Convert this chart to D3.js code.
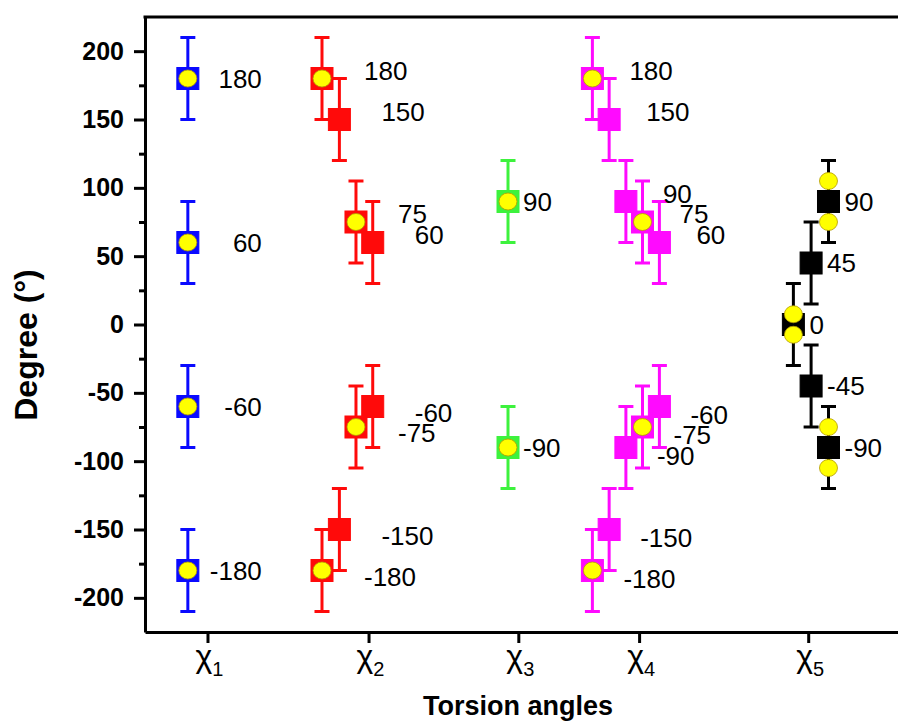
<!DOCTYPE html>
<html>
<head>
<meta charset="utf-8">
<script src="https://cdn.jsdelivr.net/npm/d3@7"></script>
<style>
  html, body { margin: 0; padding: 0; background: #ffffff; }
  svg { display: block; }
  text { font-family: Arial, "Liberation Sans", Helvetica, sans-serif; }
</style>
</head>
<body>
<svg id="chart" width="898" height="722"></svg>
<script>
// ---- data ----
const categorySubscripts = ["1", "2", "3", "4", "5"];
const categoryPositions = [1, 2, 2.93, 3.68, 4.73];

const yTickValues = [-200, -150, -100, -50, 0, 50, 100, 150, 200];
const yMinorTickValues = [-175, -125, -75, -25, 25, 75, 125, 175];

const errorMargin = 30;

// chi1
const chi1Values = [180, 60, -60, -180];
const chi1X = [0.878, 0.878, 0.878, 0.878];
const chi1Kinds = ["circle", "circle", "circle", "circle"];

// chi2
const chi2Values = [180, 150, 75, 60, -60, -75, -150, -180];
const chi2X = [1.711, 1.819, 1.922, 2.026, 2.026, 1.922, 1.819, 1.711];
const chi2Kinds = ["circle", "square", "circle", "square", "square", "circle", "square", "circle"];

// chi3
const chi3Values = [90, -90];
const chi3X = [2.866, 2.866];
const chi3Kinds = ["circle", "circle"];

// chi4
const chi4Values = [180, 150, 90, 75, 60, -60, -75, -90, -150, -180];
const chi4X = [3.390, 3.494, 3.598, 3.701, 3.806, 3.806, 3.701, 3.598, 3.494, 3.390];
const chi4Kinds = ["circle", "square", "square", "circle", "square", "square", "circle", "square", "square", "circle"];

// chi5
const chi5Values = [90, 45, 0, -45, -90];
const chi5X = [4.856, 4.748, 4.638, 4.748, 4.856];
const chi5Kinds = ["square", "square", "square", "square", "square"];
// unlabelled circles flanking the chi5 squares
const chi5SideValues = [105, 75, 7.5, -7.5, -75, -105];
const chi5SideX = [4.856, 4.856, 4.638, 4.638, 4.856, 4.856];

// ---- style / layout ----
const groups = [
  { values: chi1Values, xs: chi1X, kinds: chi1Kinds, color: "#0a0aff", label: { dx: 74, dyUp: 0, dyDown: 0, anchor: "end" } },
  { values: chi2Values, xs: chi2X, kinds: chi2Kinds, color: "#ff0a0a", label: { dx: 42, dyUp: -8, dyDown: 6, anchor: "start" } },
  { values: chi3Values, xs: chi3X, kinds: chi3Kinds, color: "#3df23d", label: { dx: 15, dyUp: 0, dyDown: 0, anchor: "start" } },
  { values: chi4Values, xs: chi4X, kinds: chi4Kinds, color: "#ff0aff", label: { dx: 37, dyUp: -8, dyDown: 8, anchor: "start", dxDown: 31 } },
  { values: chi5Values, xs: chi5X, kinds: chi5Kinds, color: "#000000", label: { dx: 16, dyUp: 0, dyDown: 0, anchor: "start" } }
];

const fmt = v => String(v);   // plain hyphen-minus for negatives

const margin = { left: 145, top: 17, right: 900, bottom: 632 };
const svg = d3.select("#chart");

const x = d3.scaleLinear().domain([0.612, 5.30]).range([margin.left, margin.right]);
const y = d3.scaleLinear().domain([-225, 225]).range([margin.bottom, margin.top]);

const squareSize = 22;
const capWidth = 15;
const labelFont = 26;

// ---- axes ----
const yAxis = d3.axisLeft(y).tickValues(yTickValues).tickSize(11).tickSizeOuter(0)
  .tickPadding(10).tickFormat(fmt);
const gy = svg.append("g").attr("transform", `translate(${margin.left},0)`).call(yAxis);
gy.select(".domain").attr("stroke", "#000").attr("stroke-width", 3);
gy.selectAll(".tick line").attr("stroke", "#000").attr("stroke-width", 3);
gy.selectAll(".tick text")
  .attr("font-size", 25).attr("font-weight", "bold").attr("fill", "#000")
  .attr("font-family", "Arial, 'Liberation Sans', sans-serif");

const gyMinor = svg.append("g").attr("transform", `translate(${margin.left},0)`)
  .call(d3.axisLeft(y).tickValues(yMinorTickValues).tickSize(6).tickSizeOuter(0).tickFormat(""));
gyMinor.select(".domain").remove();
gyMinor.selectAll(".tick line").attr("stroke", "#000").attr("stroke-width", 3);

const xAxis = d3.axisBottom(x).tickValues(categoryPositions).tickSize(11).tickSizeOuter(0).tickFormat("");
const gx = svg.append("g").attr("transform", `translate(0,${margin.bottom})`).call(xAxis);
gx.select(".domain").attr("stroke", "#000").attr("stroke-width", 3);
gx.selectAll(".tick line").attr("stroke", "#000").attr("stroke-width", 3);

// top frame line
svg.append("line")
  .attr("x1", margin.left - 1.5).attr("x2", margin.right)
  .attr("y1", margin.top).attr("y2", margin.top)
  .attr("stroke", "#000").attr("stroke-width", 3);

// category labels: chi with subscript
const catLabels = svg.append("g");
categoryPositions.forEach((p, i) => {
  const t = catLabels.append("text")
    .attr("x", x(p) + 2).attr("y", 667)
    .attr("text-anchor", "middle")
    .attr("font-family", "'Liberation Serif', 'Times New Roman', serif")
    .attr("font-size", 32).attr("fill", "#000");
  t.append("tspan").text("χ");
  t.append("tspan").attr("font-family", "Arial, 'Liberation Sans', sans-serif")
    .attr("font-size", 20).attr("dy", 9).text(categorySubscripts[i]);
});

// axis titles
svg.append("text")
  .attr("x", 518).attr("y", 715)
  .attr("text-anchor", "middle")
  .attr("font-size", 27).attr("font-weight", "bold").attr("fill", "#000")
  .text("Torsion angles");

svg.append("text")
  .attr("transform", "translate(37,345) rotate(-90)")
  .attr("text-anchor", "middle")
  .attr("font-size", 32).attr("font-weight", "bold").attr("fill", "#000")
  .text("Degree (°)");

// ---- marks ----
const plot = svg.append("g");

function drawCircle(g, cx, cy) {
  g.append("ellipse")
    .attr("cx", cx).attr("cy", cy).attr("rx", 9).attr("ry", 8.5)
    .attr("fill", "#ffff00").attr("stroke", "#b39b00").attr("stroke-width", 0.8);
}

groups.forEach(grp => {
  const g = plot.append("g");
  const pts = grp.values.map((v, i) => ({ v, xv: grp.xs[i], kind: grp.kinds[i] }));

  pts.forEach(p => {
    const cx = x(p.xv);
    const y1 = y(p.v + errorMargin), y2 = y(p.v - errorMargin);
    g.append("line").attr("x1", cx).attr("x2", cx).attr("y1", y1).attr("y2", y2)
      .attr("stroke", grp.color).attr("stroke-width", 3);
    [y1, y2].forEach(yy => {
      g.append("line").attr("x1", cx - capWidth / 2).attr("x2", cx + capWidth / 2)
        .attr("y1", yy).attr("y2", yy)
        .attr("stroke", grp.color).attr("stroke-width", 3);
    });
    g.append("rect")
      .attr("x", cx - squareSize / 2).attr("y", y(p.v) - squareSize / 2)
      .attr("width", squareSize).attr("height", squareSize)
      .attr("fill", grp.color).attr("stroke", grp.color).attr("stroke-width", 1);
    if (p.kind === "circle") drawCircle(g, cx, y(p.v));
  });

  // value labels
  const lab = grp.label;
  pts.forEach(p => {
    const up = p.v >= 0;
    const dx = (!up && lab.dxDown !== undefined) ? lab.dxDown : lab.dx;
    const dy = up ? lab.dyUp : lab.dyDown;
    g.append("text")
      .attr("x", x(p.xv) + dx)
      .attr("y", y(p.v) + dy + labelFont * 0.358)
      .attr("text-anchor", lab.anchor)
      .attr("font-size", labelFont).attr("fill", "#000")
      .text(fmt(p.v));
  });
});

// chi5 flanking circles
const side = plot.append("g");
chi5SideValues.forEach((v, i) => drawCircle(side, x(chi5SideX[i]), y(v)));
</script>
</body>
</html>
